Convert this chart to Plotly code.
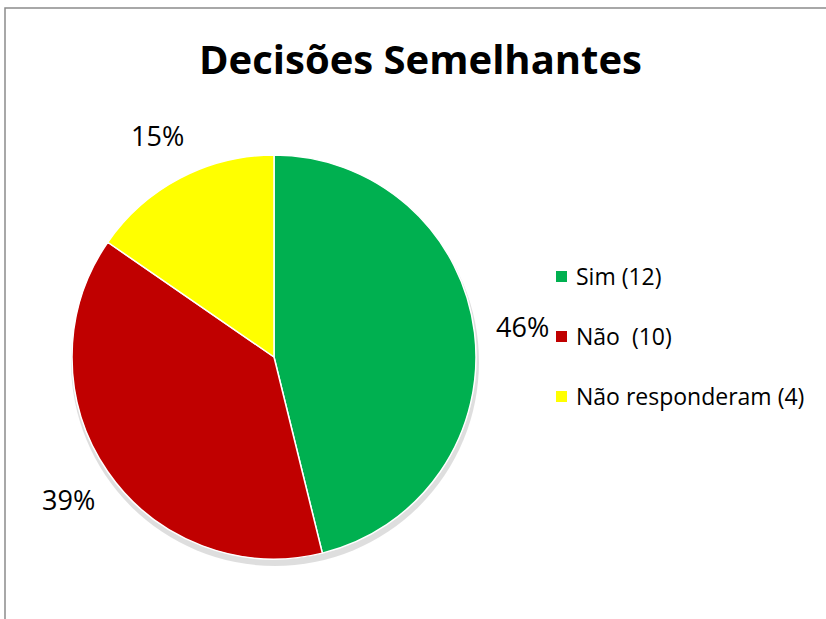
import math
import plotly.graph_objects as go

labels = ["Sim (12)", "Não  (10)", "Não responderam (4)"]
values = [12, 10, 4]
colors = ["#00B050", "#C00000", "#FFFF00"]
title = "Decisões Semelhantes"

W, H = 826, 619
cx, cy, R = 274, 357, 202   # pie centre / radius in px
label_r = 250

def px(x):
    return x / W

def py(y):
    return 1 - y / H

# percentages rounded so that they add up to 100 (largest remainder)
total = sum(values)
raw = [100 * v / total for v in values]
pct = [math.floor(r) for r in raw]
order = sorted(range(len(raw)), key=lambda i: raw[i] - pct[i], reverse=True)
for i in order[: 100 - sum(pct)]:
    pct[i] += 1

fig = go.Figure()
fig.add_trace(go.Pie(
    labels=labels, values=values, sort=False, direction="clockwise", rotation=0,
    marker=dict(colors=colors, line=dict(color="white", width=1.5)),
    textinfo="none", showlegend=False, hoverinfo="label+percent",
    domain=dict(x=[px(cx - R), px(cx + R)], y=[py(cy + R), py(cy - R)]),
))

annotations = []
cum = 0
for v, p in zip(values, pct):
    mid = (cum + v / 2) / total * 2 * math.pi
    cum += v
    lx = cx + label_r * math.sin(mid)
    ly = cy - label_r * math.cos(mid)
    annotations.append(dict(
        x=px(lx), y=py(ly), xref="paper", yref="paper", showarrow=False,
        text=f"{p}%", xanchor="center", yanchor="middle",
        font=dict(size=27, color="#000000", family="Open Sans"),
    ))

shapes = []
# shadow under pie
shapes.append(dict(type="circle", xref="paper", yref="paper", layer="below",
                   x0=px(cx - R - 1), x1=px(cx + R + 3), y0=py(cy + R + 7), y1=py(cy - R + 3),
                   fillcolor="rgba(0,0,0,0.13)", line=dict(width=0)))
# chart border
shapes.append(dict(type="rect", xref="paper", yref="paper",
                   x0=px(5), x1=px(W + 10), y0=py(H + 10), y1=py(8),
                   line=dict(color="#8c8c8c", width=1.5), fillcolor="rgba(0,0,0,0)"))

leg_y0, leg_dy = 276, 60
for i, (lab, col) in enumerate(zip(labels, colors)):
    y = leg_y0 + leg_dy * i
    shapes.append(dict(type="rect", xref="paper", yref="paper",
                       x0=px(556), x1=px(567), y0=py(y + 6), y1=py(y - 5),
                       fillcolor=col, line=dict(width=0)))
    annotations.append(dict(
        x=px(574), y=py(y), xref="paper", yref="paper", showarrow=False,
        text=lab, xanchor="left", yanchor="middle",
        font=dict(size=23, color="#000000", family="Open Sans"),
    ))

annotations.append(dict(
    x=px(420), y=py(59), xref="paper", yref="paper", showarrow=False,
    text=f"<b>{title}</b>", xanchor="center", yanchor="middle",
    font=dict(size=40, color="#000000", family="Open Sans"),
))

fig.update_layout(
    width=W, height=H, margin=dict(l=0, r=0, t=0, b=0),
    paper_bgcolor="white", plot_bgcolor="white",
    annotations=annotations, shapes=shapes,
)
fig.write_html("out.html")
